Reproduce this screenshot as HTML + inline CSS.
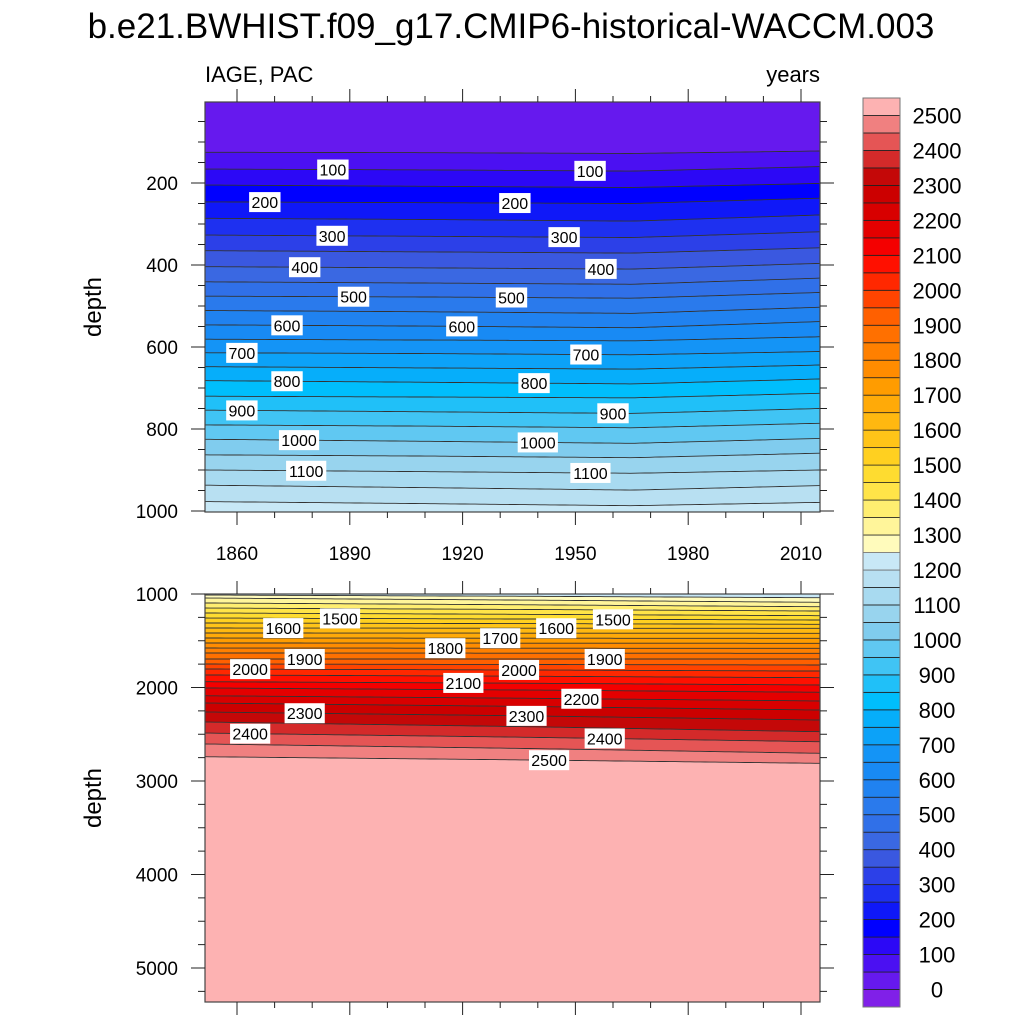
<!DOCTYPE html>
<html><head><meta charset="utf-8"><style>
html,body{margin:0;padding:0;background:#fff;}
svg text{font-family:"Liberation Sans",sans-serif;}
</style></head><body>
<svg id="chart" width="1024" height="1024" viewBox="0 0 1024 1024" xmlns="http://www.w3.org/2000/svg">
<text x="511" y="38" font-size="35" text-anchor="middle">b.e21.BWHIST.f09_g17.CMIP6-historical-WACCM.003</text>
<text x="205" y="82" font-size="22">IAGE, PAC</text>
<text x="820" y="82" font-size="22" text-anchor="end">years</text>
<text transform="translate(101,307) rotate(-90)" font-size="24" text-anchor="middle">depth</text>
<text transform="translate(101,798) rotate(-90)" font-size="24" text-anchor="middle">depth</text>
<defs>
<clipPath id="clipTop"><rect x="205" y="102" width="615" height="410"/></clipPath>
<clipPath id="clipBot"><rect x="205" y="594" width="615" height="408"/></clipPath>
</defs>
<g id="topPanel" clip-path="url(#clipTop)"></g>
<g id="botPanel" clip-path="url(#clipBot)"></g>
<g id="axes"></g>
<g id="labels"></g>
<g id="cbar"></g>
</svg>
<script>
const NS="http://www.w3.org/2000/svg";
const bandColors=["#8020E8","#6619EE","#4B10F2","#2C08F6","#0000FF","#0F18F8","#1E30F0","#2C40E8","#3A58E0","#3A68E2","#3070E8","#2A7AEC","#2082F0","#188AF4","#1494F6","#0CA2F8","#06AEFA","#00BEFC","#20C0F8","#40C4F4","#60C8F2","#80CCEE","#98D4EE","#A8DAF0","#B8E0F2","#C8E8F6",
"#FFFBBC","#FFF59A","#FFEE70","#FFE448","#FEDC30","#FFD020","#FFC418","#FFB810","#FFAA08","#FF9C00","#FF8C00","#FF8000","#FF7000","#FF6000","#FF4400","#FF2800","#FF1000","#F40000","#E40000","#D80000","#CC0000","#C40808","#D42A2A","#E55555","#F08080","#FDB2B2"];
const cbarLabels=[0,100,200,300,400,500,600,700,800,900,1000,1100,1200,1300,1400,1500,1600,1700,1800,1900,2000,2100,2200,2300,2400,2500];

const topYears=[1851,1910,1965,2015];
const topLevels=[50,100,150,200,250,300,350,400,450,500,550,600,650,700,750,800,850,900,950,1000,1050,1100,1150,1200];
const topDepths=[[125,126,128,122],[166,168,171,160],[205,208,211,201],[246,248,250,237],[286,289,293,278],[327,330,333,319],[365,368,371,358],[404,407,410,396],[441,444,447,432],[476,478,481,467],[511,514,518,503],[546,549,553,538],[581,583,585,575],[614,616,619,611],[648,651,654,644],[682,686,690,678],[720,722,724,713],[754,758,762,750],[790,793,797,786],[825,830,835,823],[863,866,870,859],[900,904,908,900],[937,943,949,938],[977,982,987,979]];

const botYears=[1851,1940,2015];
const botLevels=[1250,1300,1350,1400,1450,1500,1550,1600,1650,1700,1750,1800,1850,1900,1950,2000,2050,2100,2150,2200,2250,2300,2350,2400,2450,2500];
const botDepths=[[1011,1025,1040],[1043,1066,1089],[1096,1116,1136],[1150,1166,1182],[1203,1218,1232],[1257,1268,1278],[1310,1317,1324],[1364,1366,1367],[1417,1419,1420],[1471,1473,1474],[1524,1526,1527],[1578,1580,1581],[1631,1633,1634],[1695,1695,1695],[1749,1754,1759],[1802,1813,1824],[1866,1880,1895],[1938,1955,1973],[2005,2028,2051],[2088,2116,2144],[2166,2204,2241],[2262,2305,2348],[2369,2421,2473],[2487,2534,2580],[2604,2654,2704],[2740,2776,2811]];

const topLabelLevels=[100,100,200,200,300,300,400,400,500,500,600,600,700,700,800,800,900,900,1000,1000,1100,1100];
const topLabelYears=[1885.5,1953.9,1867.4,1933.9,1885.3,1947,1878,1956.8,1891,1933,1873.3,1919.8,1861.3,1952.8,1873.3,1939,1861.3,1960,1876.5,1940,1878.4,1954];
const botLabelLevels=[1500,1500,1600,1600,1700,1800,1900,1900,2000,2000,2100,2200,2300,2300,2400,2400,2500];
const botLabelYears=[1887.4,1960,1872.3,1944.9,1930,1915.4,1878,1957.8,1863.5,1935,1920.2,1951.6,1878,1937,1863.5,1957.8,1943];

const xYear=y=>237+(y-1860)*3.76;
const yTop=d=>101+d*0.41;
const yBot=d=>594+(d-1000)*0.0935;
const bandIndex=lvl=>Math.round(lvl/50)+1;

function el(tag,attrs,parent){const e=document.createElementNS(NS,tag);for(const k in attrs)e.setAttribute(k,attrs[k]);parent.appendChild(e);return e;}
function interp(xs,ys,x){if(x<=xs[0]){return ys[0]+(ys[1]-ys[0])*(x-xs[0])/(xs[1]-xs[0]);}
 for(let i=0;i<xs.length-1;i++){if(x<=xs[i+1])return ys[i]+(ys[i+1]-ys[i])*(x-xs[i])/(xs[i+1]-xs[i]);}
 const n=xs.length;return ys[n-2]+(ys[n-1]-ys[n-2])*(x-xs[n-2])/(xs[n-1]-xs[n-2]);}

function drawPanel(g,years,levels,depths,yS,topY,botY,aboveColor){
 const r=el('rect',{x:205,y:topY,width:615,height:botY-topY,fill:aboveColor},g);
 
 
 const xs=[];for(let x=195;x<=830;x+=5)xs.push(x);
 const line=i=>xs.map(x=>{const yr=1860+(x-237)/3.76;return [x,yS(interp(years,depths[i],yr))];});
 levels.forEach((lvl,i)=>{
  const pstr=line(i).map(p=>p[0].toFixed(1)+','+p[1].toFixed(1)).join(' ');
  const poly=el('polygon',{points:pstr+' 830,'+(botY+20)+' 195,'+(botY+20),fill:bandColors[bandIndex(lvl)]},g);
  
  
 });
 levels.forEach((lvl,i)=>{
  const l=el('polyline',{points:line(i).map(p=>p[0].toFixed(1)+','+p[1].toFixed(1)).join(' '),fill:'none',stroke:'#333',"stroke-width":0.9},g);
  
  
 });
}
drawPanel(document.getElementById('topPanel'),topYears,topLevels,topDepths,yTop,102,512,bandColors[1]);
drawPanel(document.getElementById('botPanel'),botYears,botLevels,botDepths,yBot,594,1002,bandColors[25]);

const lg=document.getElementById('labels');
function drawLabels(levels,yrs,years,allLevels,depths,yS){
 levels.forEach((lvl,i)=>{
  const li=allLevels.indexOf(lvl);
  const x=xYear(yrs[i]);const y=yS(interp(years,depths[li],yrs[i]));
  const txt=String(lvl);const w=txt.length*8.8+5;
  const r=el('rect',{x:x-w/2,y:y-10,width:w,height:20,fill:'#fff'},lg);
  
  
  const t=el('text',{x:x,y:y+6,"font-size":16,"text-anchor":"middle"},lg);
  t.textContent=txt;
  
  
 });
}
drawLabels(topLabelLevels,topLabelYears,topYears,topLevels,topDepths,yTop);
drawLabels(botLabelLevels,botLabelYears,botYears,botLevels,botDepths,yBot);

const ax=document.getElementById('axes');
function frame(y0,y1,name){const r=el('rect',{x:205,y:y0,width:615,height:y1-y0,fill:'none',stroke:'#444',"stroke-width":1.2},ax);
 }
frame(102,512,'top-panel-frame');frame(594,1002,'bottom-panel-frame');
const tk={stroke:'#222',"stroke-width":1};
function xTicks(y0,y1,withLabels){
 for(let yr=1860;yr<=2015;yr+=10){const x=xYear(yr);const major=(yr-1860)%30===0;const L=major?13:6;
  el('line',{x1:x,y1:y0,x2:x,y2:y0-L,...tk},ax);el('line',{x1:x,y1:y1,x2:x,y2:y1+L,...tk},ax);
  if(major&&withLabels){const t=el('text',{x:x,y:560,"font-size":19,"text-anchor":"middle"},ax);t.textContent=yr;
   }}
}
xTicks(102,512,true);xTicks(594,1002,false);
for(let d=50;d<=1000;d+=50){const y=yTop(d);const major=d%200===0;const L=major?14:7;
 el('line',{x1:205,y1:y,x2:205-L,y2:y,...tk},ax);el('line',{x1:820,y1:y,x2:820+L,y2:y,...tk},ax);
 if(major){const t=el('text',{x:178,y:y+7,"font-size":19,"text-anchor":"end"},ax);t.textContent=d;
  }}
for(let d=1000;d<=5350;d+=250){const y=yBot(d);const major=d%1000===0;const L=major?14:7;
 el('line',{x1:205,y1:y,x2:205-L,y2:y,...tk},ax);el('line',{x1:820,y1:y,x2:820+L,y2:y,...tk},ax);
 if(major){const t=el('text',{x:178,y:y+7,"font-size":19,"text-anchor":"end"},ax);t.textContent=d;
  }}

const cb=document.getElementById('cbar');
const cTop=98,cBot=1007,bh=(cBot-cTop)/bandColors.length;
bandColors.forEach((c,i)=>{const y=cBot-(i+1)*bh;
 const r=el('rect',{x:863,y:y,width:37,height:bh,fill:c,stroke:(i===25||i===26)?'#777':'#222',"stroke-width":0.8},cb);
 });
el('rect',{x:863,y:cTop,width:37,height:cBot-cTop,fill:'none',stroke:'#777',"stroke-width":1},cb);
cbarLabels.forEach(v=>{const y=cBot-(v/50+1)*bh;
 const t=el('text',{x:937,y:y+8,"font-size":22,"text-anchor":"middle"},cb);t.textContent=v;
 });
</script>
</body></html>
